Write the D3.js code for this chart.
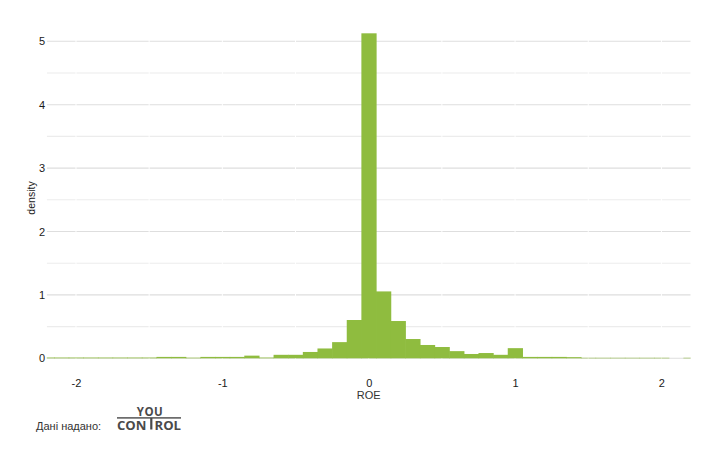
<!DOCTYPE html>
<html>
<head>
<meta charset="utf-8">
<script src="https://cdn.jsdelivr.net/npm/d3@7/dist/d3.min.js"></script>
<style>
  html, body { margin: 0; padding: 0; background: #fff; }
  svg { display: block; font-family: "Liberation Sans", Arial, sans-serif; }
</style>
</head>
<body>
<svg id="chart" width="710" height="451"></svg>
<script>
// ---- data ----
const binCenters = [-2.2, -2.1, -2.0, -1.9, -1.8, -1.7, -1.6, -1.5, -1.4, -1.3, -1.2, -1.1, -1.0, -0.9, -0.8, -0.7, -0.6, -0.5, -0.4, -0.3, -0.2, -0.1,
  0.0, 0.1, 0.2, 0.3, 0.4, 0.5, 0.6, 0.7, 0.8, 0.9, 1.0, 1.1, 1.2, 1.3, 1.4, 1.5, 1.6, 1.7, 1.8, 1.9, 2.0, 2.1, 2.2];
const density = [0.012, 0.012, 0.012, 0.012, 0.012, 0.012, 0.012, 0.012, 0.022, 0.022, 0.01, 0.022, 0.022, 0.022, 0.042, 0.012, 0.055, 0.055, 0.1, 0.155, 0.255, 0.604,
  5.126, 1.055, 0.588, 0.304, 0.21, 0.178, 0.113, 0.068, 0.083, 0.055, 0.16, 0.022, 0.022, 0.022, 0.018, 0.008, 0.008, 0.008, 0.008, 0.008, 0.008, 0, 0.008];
const binWidth = 0.1;
const xTicks = [-2, -1, 0, 1, 2];
const xMinor = [-1.5, -0.5, 0.5, 1.5];
const yTicks = [0, 1, 2, 3, 4, 5];
const yMinor = [0.5, 1.5, 2.5, 3.5, 4.5];
const xLabel = "ROE";
const yLabel = "density";
const sourceLabel = "Дані надано:";

// ---- layout ----
const svg = d3.select("#chart");
const panel = { left: 46.7, right: 690.7, top: 17, bottom: 374.5 };
const x = d3.scaleLinear().domain([-2.2, 2.2]).range([panel.left, panel.right]);
const y = d3.scaleLinear().domain([0, 5]).range([358.3, 41.3]);

svg.append("defs").append("clipPath").attr("id", "clip")
  .append("rect").attr("x", panel.left).attr("y", panel.top)
  .attr("width", panel.right - panel.left).attr("height", panel.bottom - panel.top);

const g = svg.append("g").attr("clip-path", "url(#clip)");

// horizontal grid
g.selectAll("line.ymin").data(yMinor).enter().append("line")
  .attr("x1", panel.left).attr("x2", panel.right)
  .attr("y1", d => y(d)).attr("y2", d => y(d))
  .attr("stroke", "#ececec").attr("stroke-width", 1.1);
g.selectAll("line.ymaj").data(yTicks).enter().append("line")
  .attr("x1", panel.left).attr("x2", panel.right)
  .attr("y1", d => y(d)).attr("y2", d => y(d))
  .attr("stroke", "#dedede").attr("stroke-width", 1.1);
// vertical white grid
g.selectAll("line.xg").data(xTicks.concat(xMinor)).enter().append("line")
  .attr("x1", d => x(d)).attr("x2", d => x(d))
  .attr("y1", panel.top).attr("y2", panel.bottom)
  .attr("stroke", "#ffffff").attr("stroke-width", 1);

// bars
const bins = binCenters.map((c, i) => ({ c, v: density[i] }));
g.selectAll("rect.bar").data(bins).enter().append("rect")
  .attr("x", d => x(d.c - binWidth / 2))
  .attr("width", d => x(d.c + binWidth / 2) - x(d.c - binWidth / 2) + 0.6)
  .attr("y", d => y(d.v))
  .attr("height", d => y(0) - y(d.v))
  .attr("fill", "#8fbc3f");

// axes text
const fmt = d => String(d);
const xAxis = d3.axisBottom(x).tickValues(xTicks).tickSize(0).tickPadding(0).tickFormat(fmt);
const xa = svg.append("g").attr("transform", `translate(0, 379.5)`).call(xAxis);
xa.select(".domain").remove();
xa.selectAll("text").attr("font-size", 11).attr("fill", "#1a1a1a").attr("font-family", "Liberation Sans, Arial, sans-serif");

const yAxis = d3.axisLeft(y).tickValues(yTicks).tickSize(0).tickPadding(0).tickFormat(fmt);
const ya = svg.append("g").attr("transform", `translate(45, 0)`).call(yAxis);
ya.select(".domain").remove();
ya.selectAll("text").attr("font-size", 11).attr("fill", "#1a1a1a").attr("font-family", "Liberation Sans, Arial, sans-serif");

svg.append("text").attr("x", x(0)).attr("y", 399).attr("text-anchor", "middle")
  .attr("font-size", 11).attr("fill", "#333").text(xLabel);
svg.append("text").attr("transform", "translate(35, 198) rotate(-90)").attr("text-anchor", "middle")
  .attr("font-size", 10.5).attr("fill", "#1a1a1a").text(yLabel);

// footer
svg.append("text").attr("x", 36).attr("y", 429.5).attr("font-size", 11).attr("fill", "#333").text(sourceLabel);
const logo = svg.append("g").attr("fill", "#4a4a4a");
const logoFont = "Open Sans, Liberation Sans, sans-serif";
logo.append("text").attr("x", 150).attr("y", 416).attr("text-anchor", "middle")
  .attr("font-size", 11.5).attr("font-weight", "bold").attr("font-family", logoFont)
  .attr("letter-spacing", 0.5).text("YOU");
logo.append("rect").attr("x", 117).attr("y", 417.2).attr("width", 64).attr("height", 1.4);
logo.append("text").attr("x", 117).attr("y", 429.5)
  .attr("font-size", 11.5).attr("font-weight", "bold").attr("font-family", logoFont)
  .attr("textLength", 29.5).attr("lengthAdjust", "spacingAndGlyphs").text("CON");
logo.append("rect").attr("x", 150.2).attr("y", 418).attr("width", 2.2).attr("height", 11.5);
logo.append("text").attr("x", 154.5).attr("y", 429.5)
  .attr("font-size", 11.5).attr("font-weight", "bold").attr("font-family", logoFont)
  .attr("textLength", 26.5).attr("lengthAdjust", "spacingAndGlyphs").text("ROL");
</script>
</body>
</html>
